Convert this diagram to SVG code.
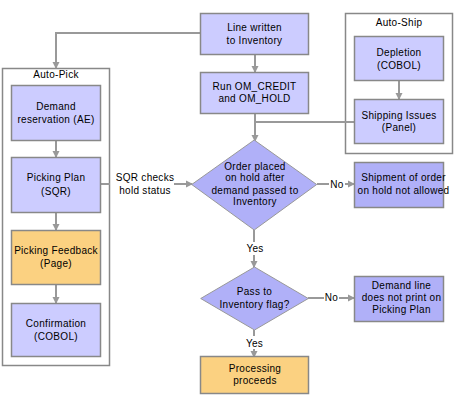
<svg xmlns="http://www.w3.org/2000/svg" width="455" height="408" viewBox="0 0 455 408">
<style>
text{font-family:"Liberation Sans",Arial,sans-serif;font-size:10px;letter-spacing:0.3px;fill:#000;text-anchor:middle}
.c{fill:#fff;stroke:#888;stroke-width:1.5}
.l{fill:#ccccff;stroke:#888;stroke-width:1.5}
.d{fill:#b0b0f8;stroke:#888;stroke-width:1.5}
.o{fill:#fbd181;stroke:#888;stroke-width:1.5}
.k{fill:#b0b0f8;stroke:#999;stroke-width:1}
.ln{fill:none;stroke:#999;stroke-width:2}
</style>
<defs>
<marker id="a" markerUnits="userSpaceOnUse" markerWidth="8" markerHeight="8" refX="6" refY="4" orient="auto">
<path d="M0,0.5 L7,4 L0,7.5 Z" fill="#999"/>
</marker>
</defs>
<g id="auto-pick"><rect class="c" x="2.5" y="68.5" width="107" height="297"/><text x="56" y="78">Auto-Pick</text></g>
<g id="auto-ship"><rect class="c" x="345.5" y="13.5" width="107" height="140"/><text x="399" y="26">Auto-Ship</text></g>
<g id="connectors">
<path class="ln" d="M200,33 H56 V68" marker-end="url(#a)"/>
<path class="ln" d="M255,54 V72" marker-end="url(#a)"/>
<path class="ln" d="M255,113 V141" marker-end="url(#a)"/>
<path class="ln" d="M354,122 H255"/>
<path class="ln" d="M399,81 V99" marker-end="url(#a)"/>
<path class="ln" d="M56,140 V157" marker-end="url(#a)"/>
<path class="ln" d="M56,212 V230" marker-end="url(#a)"/>
<path class="ln" d="M56,284 V303" marker-end="url(#a)"/>
<path class="ln" d="M100,184 H110"/>
<path class="ln" d="M174,184 H192" marker-end="url(#a)"/>
<path class="ln" d="M317,184 H329"/>
<path class="ln" d="M345,184 H354" marker-end="url(#a)"/>
<path class="ln" d="M254,230 V242"/>
<path class="ln" d="M254,255 V267" marker-end="url(#a)"/>
<path class="ln" d="M308,298 H324"/>
<path class="ln" d="M339,298 H354" marker-end="url(#a)"/>
<path class="ln" d="M254,330 V336"/>
<path class="ln" d="M254,349 V357" marker-end="url(#a)"/>
<text x="145" y="181">SQR checks</text>
<text x="145" y="194">hold status</text>
<text x="337" y="188">No</text>
<text x="255" y="252">Yes</text>
<text x="331.5" y="301">No</text>
<text x="254.5" y="347">Yes</text>
</g>
<g id="line-written"><rect class="l" x="200.5" y="13.5" width="108" height="41"/><text x="254.5" y="31">Line written</text><text x="254.5" y="44">to Inventory</text></g>
<g id="run-om"><rect class="l" x="200.5" y="72.5" width="108" height="41"/><text x="254.5" y="89.5">Run OM_CREDIT</text><text x="254.5" y="102">and OM_HOLD</text></g>
<g id="depletion"><rect class="l" x="354.5" y="36.5" width="89" height="44"/><text x="399" y="56">Depletion</text><text x="399" y="69">(COBOL)</text></g>
<g id="shipping-issues"><rect class="l" x="354.5" y="99.5" width="89" height="44"/><text x="399" y="118.5">Shipping Issues</text><text x="399" y="131">(Panel)</text></g>
<g id="demand-reservation"><rect class="l" x="11.5" y="85.5" width="89" height="55"/><text x="56" y="109.5">Demand</text><text x="56" y="122.5">reservation (AE)</text></g>
<g id="picking-plan"><rect class="l" x="11.5" y="157.5" width="89" height="55"/><text x="56" y="181">Picking Plan</text><text x="56" y="194.5">(SQR)</text></g>
<g id="picking-feedback"><rect class="o" x="11.5" y="230.5" width="89" height="54"/><text x="56" y="254">Picking Feedback</text><text x="56" y="267">(Page)</text></g>
<g id="confirmation"><rect class="l" x="11.5" y="303.5" width="89" height="53"/><text x="56" y="327">Confirmation</text><text x="56" y="339.5">(COBOL)</text></g>
<g id="decision-hold"><path class="k" d="M254.2,140 L316.7,184.5 L254.2,230 L191.7,184.5 Z"/><text x="255" y="170">Order placed</text><text x="255" y="181">on hold after</text><text x="255" y="194">demand passed to</text><text x="255" y="205">Inventory</text></g>
<g id="shipment-not-allowed"><rect class="d" x="354.5" y="162.5" width="89" height="45"/><text x="403.5" y="181">Shipment of order</text><text x="403.5" y="194">on hold not allowed</text></g>
<g id="decision-pass"><path class="k" d="M254.5,267 L308.3,298.5 L254.5,330 L200.7,298.5 Z"/><text x="254.5" y="295">Pass to</text><text x="254.5" y="308">Inventory flag?</text></g>
<g id="demand-line"><rect class="d" x="354.5" y="276.5" width="89" height="45"/><text x="401.5" y="289">Demand line</text><text x="401.5" y="301">does not print on</text><text x="401.5" y="313">Picking Plan</text></g>
<g id="processing"><rect class="o" x="200.5" y="356.5" width="108" height="37"/><text x="255" y="372">Processing</text><text x="255" y="384">proceeds</text></g>
</svg>
